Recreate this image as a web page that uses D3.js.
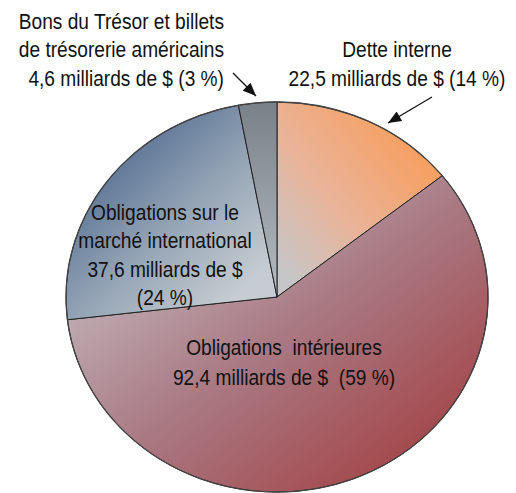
<!DOCTYPE html>
<html><head><meta charset="utf-8">
<script src="https://cdn.jsdelivr.net/npm/d3@7"></script>
<style>html,body{margin:0;padding:0;background:#fff;}svg{display:block;}</style>
</head><body>
<script>
const categories = ["Dette interne", "Obligations intérieures", "Obligations sur le marché international", "Bons du Trésor et billets de trésorerie américains"];
const values = [22.5, 92.4, 37.6, 4.6];
const percents = [14, 59, 24, 3];

const W = 516, H = 493;
const cx = 277, cy = 297, rx = 211, ry = 195;
const svg = d3.select("body").append("svg").attr("width", W).attr("height", H);
const defs = svg.append("defs");

const grads = [
  {x1:0.1,y1:0.95,x2:0.85,y2:0.25, stops:[["#c6c6c8",0],["#e9b49a",0.45],["#f6a062",1]]},
  {x1:0.05,y1:0.05,x2:0.95,y2:0.95, stops:[["#cbc7cc",0],["#a97a84",0.5],["#a23c3e",1]]},
  {x1:0.15,y1:0.1,x2:0.85,y2:0.85, stops:[["#47628a",0],["#93a3b4",0.55],["#c6ccd1",1]]},
  {x1:0,y1:0,x2:0,y2:1, stops:[["#7a8088",0],["#b4bcc2",1]]}
];
grads.forEach((g,i)=>{
  const lg = defs.append("linearGradient").attr("id","g"+i)
    .attr("x1",g.x1).attr("y1",g.y1).attr("x2",g.x2).attr("y2",g.y2);
  g.stops.forEach(s=>lg.append("stop").attr("offset",s[1]).attr("stop-color",s[0]));
});

const pie = d3.pie().sort(null).value(d=>d);
const arc = d3.arc().innerRadius(0).outerRadius(rx);
const arcs = pie(values);

const g = svg.append("g").attr("transform",`translate(${cx},${cy}) scale(1,${ry/rx})`);
g.selectAll("path.slice").data(arcs).join("path")
  .attr("class","slice")
  .attr("d",arc)
  .attr("fill",(d,i)=>`url(#g${i})`)
  .attr("stroke","#222")
  .attr("stroke-width",1)
  .attr("vector-effect","non-scaling-stroke");
g.append("ellipse").attr("rx",rx).attr("ry",rx).attr("fill","none")
  .attr("stroke","#444").attr("stroke-width",1.3).attr("vector-effect","non-scaling-stroke");

const fmt = v => String(v).replace(".", ",");
const FS = 21.5, SX = 0.89;
function label(x, anchor, lines){
  const grp = svg.append("g").attr("transform",`translate(${x},0) scale(${SX},1)`);
  lines.forEach(l=>{
    grp.append("text").attr("x",0).attr("y",l[1]).attr("text-anchor",anchor)
      .attr("font-family","'Liberation Sans', Arial, sans-serif")
      .attr("font-size",FS).attr("fill","#111")
      .attr("xml:space","preserve")
      .text(l[0]);
  });
}
label(224, "end", [["Bons du Trésor et billets",29],["de trésorerie américains",57],[`${fmt(values[3])} milliards de $ (${percents[3]} %)`,86]]);
label(397, "middle", [[categories[0],57],[`${fmt(values[0])} milliards de $ (${percents[0]} %)`,86]]);
label(165, "middle", [["Obligations sur le",220],["marché international",248],[`${fmt(values[2])} milliards de $`,277],[`(${percents[2]} %)`,305]]);
label(284, "middle", [["Obligations  intérieures",355],[`${fmt(values[1])} milliards de $  (${percents[1]} %)`,385]]);

defs.append("marker").attr("id","ah").attr("viewBox","0 0 12 10").attr("refX",12).attr("refY",5)
  .attr("markerUnits","userSpaceOnUse").attr("markerWidth",14).attr("markerHeight",11).attr("orient","auto")
  .append("path").attr("d","M0,0 L12,5 L0,10 Z").attr("fill","#111");
const arrows = [[233,73,256,96],[432,97,388,123]];
svg.selectAll("line.arr").data(arrows).join("line").attr("class","arr")
  .attr("x1",d=>d[0]).attr("y1",d=>d[1]).attr("x2",d=>d[2]).attr("y2",d=>d[3])
  .attr("stroke","#111").attr("stroke-width",1.3).attr("marker-end","url(#ah)");
</script>
</body></html>
